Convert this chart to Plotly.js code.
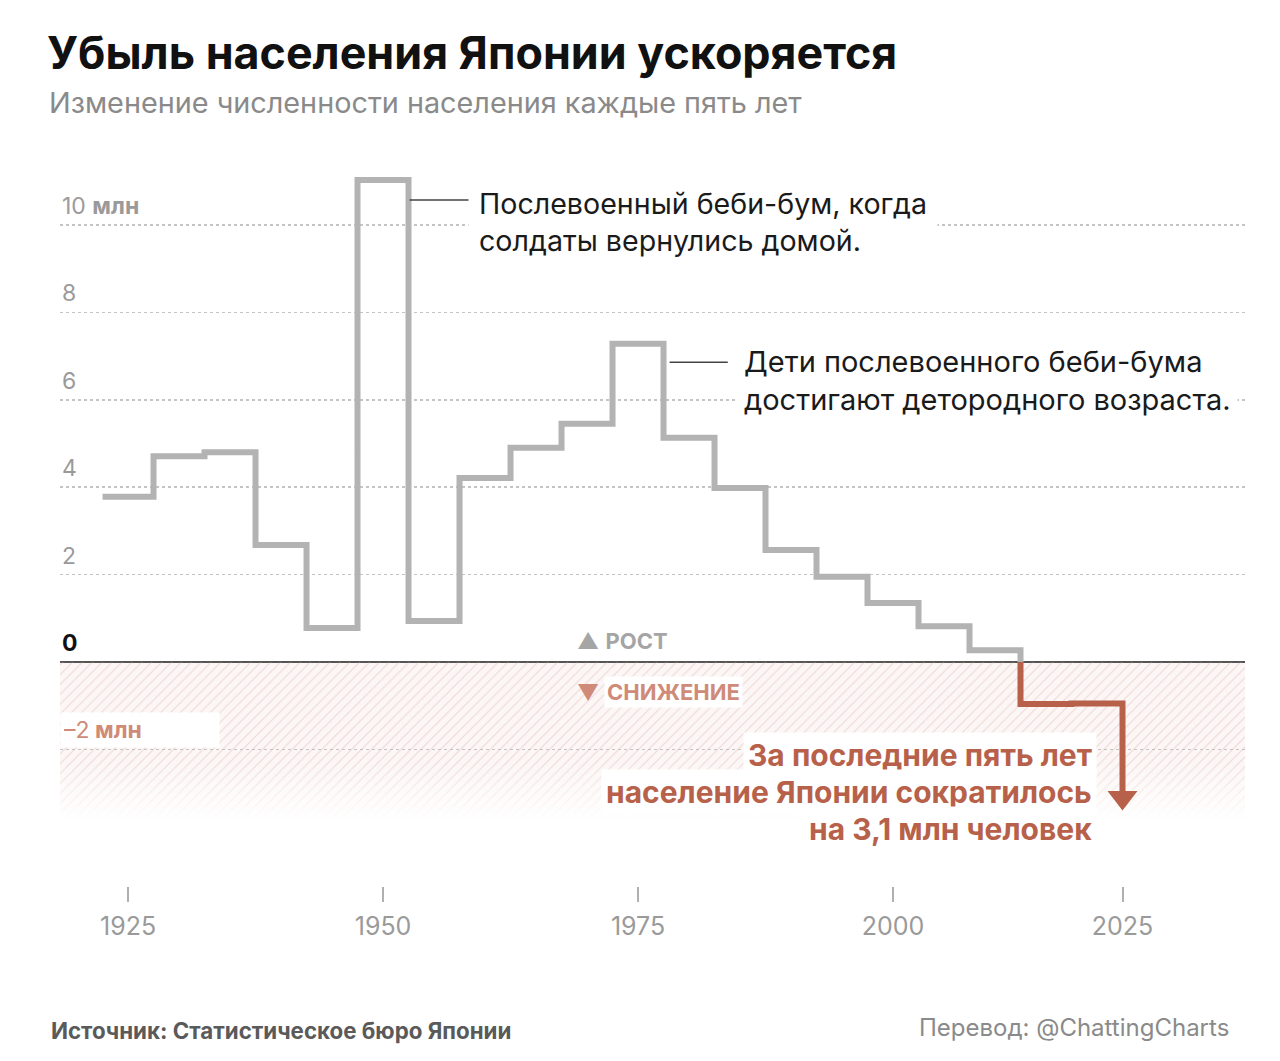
<!DOCTYPE html>
<html>
<head>
<meta charset="utf-8">
<script src="https://cdn.plot.ly/plotly-3.0.1.min.js"></script>
<style>
  html, body { margin: 0; padding: 0; background: #ffffff; }
  #chart { width: 1280px; height: 1061px; }
</style>
</head>
<body>
<div id="chart"></div>
<script>
// ---- data ----
const years = [1925, 1930, 1935, 1940, 1945, 1950, 1955, 1960, 1965, 1970,
               1975, 1980, 1985, 1990, 1995, 2000, 2005, 2010, 2015, 2020];
const changes = [3.78, 4.71, 4.80, 2.68, 0.78, 11.03, 0.94, 4.21, 4.90, 5.45,
                 7.28, 5.13, 3.98, 2.56, 1.95, 1.35, 0.82, 0.27, -0.96, -0.95];
const latestChange = -3.1;          // last five years
const xTickVals = [1925, 1950, 1975, 2000, 2022.5];
const xTickText = ['1925', '1950', '1975', '2000', '2025'];
const yTickVals = [10, 8, 6, 4, 2, 0, -2];
const yTickText = ['10 <b>млн</b>', '8', '6', '4', '2', '<b>0</b>', '–2<b> млн</b>'];
const gridVals = [-2, 2, 4, 6, 8, 10];

// ---- styles ----
const FONT = 'Inter, "Noto Sans", sans-serif';
const GRAY_LINE = '#b3b3b3';
const RED = '#b8614a';
const RED_LIGHT = '#cf8b78';
const HALF = 2.5;
const xRange = [1918.33, 2034.51];
const yRange = [-5.126, 11.716];
const hatchBottom = -3.6;

// ---- step coordinates ----
const gx = [], gy = [], rx = [], ry = [];
let i = 0;
for (; i < changes.length && changes[i] >= 0; i++) {
  gx.push(years[i] - HALF, years[i] + HALF);
  gy.push(changes[i], changes[i]);
}
const crossX = years[i - 1] + HALF;
gx.push(crossX); gy.push(0);
rx.push(crossX); ry.push(0);
for (; i < changes.length; i++) {
  rx.push(years[i] - HALF, years[i] + HALF);
  ry.push(changes[i], changes[i]);
}
const lastEdge = years[years.length - 1] + HALF;
rx.push(lastEdge); ry.push(latestChange);

const traces = [
  { // hatched decline zone
    x: [xRange[0], xRange[1], xRange[1], xRange[0], xRange[0]],
    y: [0, 0, hatchBottom, hatchBottom, 0],
    mode: 'lines', line: {width: 0}, fill: 'toself',
    fillcolor: 'rgba(0,0,0,0)',
    fillpattern: {shape: '/', fgcolor: 'rgba(214,170,160,0.4)', bgcolor: 'rgba(0,0,0,0)', size: 7, solidity: 0.16},
    hoverinfo: 'skip', showlegend: false
  },
  { // fade at the bottom of the zone
    x: [xRange[0], xRange[1], xRange[1], xRange[0], xRange[0]],
    y: [-2.3, -2.3, hatchBottom - 0.05, hatchBottom - 0.05, -2.3],
    mode: 'lines', line: {width: 0}, fill: 'toself',
    fillgradient: {type: 'vertical', colorscale: [[0, 'rgba(255,255,255,1)'], [1, 'rgba(255,255,255,0)']]},
    hoverinfo: 'skip', showlegend: false
  },
  {
    x: gx, y: gy, mode: 'lines',
    line: {color: GRAY_LINE, width: 6, shape: 'linear'},
    hoverinfo: 'skip', showlegend: false
  },
  {
    x: rx, y: ry, mode: 'lines',
    line: {color: RED, width: 6, shape: 'linear'},
    hoverinfo: 'skip', showlegend: false
  },
  {
    x: [lastEdge], y: [latestChange], mode: 'markers',
    marker: {symbol: 'triangle-down', size: 26, color: RED, line: {width: 0}},
    hoverinfo: 'skip', showlegend: false
  }
];

// ---- annotations ----
const ann = [];
yTickVals.forEach((v, k) => {
  const a = {
    xref: 'paper', yref: 'y', x: 0, y: v, xanchor: 'left', yanchor: 'bottom',
    yshift: 3, text: yTickText[k], showarrow: false,
    font: {family: FONT, size: 23, color: '#9a9a9a'}
  };
  if (v === 0) { a.font = {family: FONT, size: 23, color: '#111'}; }
  if (v === -2) {
    a.font = {family: FONT, size: 23, color: RED_LIGHT};
    a.bgcolor = '#ffffff'; a.width = 152; a.align = 'left'; a.borderpad = 3; a.yshift = 1;
  }
  ann.push(a);
});

// title, subtitle, footer
ann.push({xref: 'paper', yref: 'paper', x: -0.0127, y: 1.1318, xanchor: 'left', yanchor: 'middle',
  text: '<b>Убыль населения Японии ускоряется</b>', showarrow: false,
  font: {family: FONT, size: 44.8, color: '#111'}});
ann.push({xref: 'paper', yref: 'paper', x: -0.011, y: 1.0639, xanchor: 'left', yanchor: 'middle',
  text: 'Изменение численности населения каждые пять лет', showarrow: false,
  font: {family: FONT, size: 28.8, color: '#8a8a8a'}});
ann.push({xref: 'paper', yref: 'paper', x: -0.0093, y: -0.1957, xanchor: 'left', yanchor: 'middle',
  text: '<b>Источник: Статистическое бюро Японии</b>', showarrow: false,
  font: {family: FONT, size: 22.3, color: '#5a5a5a'}});
ann.push({xref: 'paper', yref: 'paper', x: 0.988, y: -0.1916, xanchor: 'right', yanchor: 'middle',
  text: 'Перевод: @ChattingCharts', showarrow: false,
  font: {family: FONT, size: 24, color: '#8a8a8a'}});

// callouts
ann.push({xref: 'x', yref: 'y', x: 1958.3, y: 10.07, xanchor: 'left', yanchor: 'middle',
  text: 'Послевоенный беби-бум, когда<br>солдаты вернулись домой.', align: 'left',
  showarrow: false, bgcolor: '#ffffff', borderpad: 10,
  font: {family: FONT, size: 28.6, color: '#1a1a1a'}});
ann.push({xref: 'x', yref: 'y', x: 1984.7, y: 6.45, xanchor: 'left', yanchor: 'middle',
  text: 'Дети послевоенного беби-бума<br>достигают детородного возраста.', align: 'left',
  showarrow: false, bgcolor: '#ffffff', borderpad: 6,
  font: {family: FONT, size: 29, color: '#1a1a1a'}});

// growth / decline labels
ann.push({xref: 'x', yref: 'y', x: 1968.8, y: 0.48, xanchor: 'left', yanchor: 'middle',
  text: '▲ <b>РОСТ</b>', showarrow: false,
  font: {family: FONT, size: 22, color: '#a5a5a5'}});
ann.push({xref: 'x', yref: 'y', x: 1968.8, y: -0.69, xanchor: 'left', yanchor: 'middle',
  text: '▼', showarrow: false,
  font: {family: FONT, size: 22, color: RED_LIGHT}});
ann.push({xref: 'x', yref: 'y', x: 1971.7, y: -0.69, xanchor: 'left', yanchor: 'middle',
  text: '<b>СНИЖЕНИЕ</b>', showarrow: false, bgcolor: '#ffffff', borderpad: 2,
  font: {family: FONT, size: 22, color: RED_LIGHT}});

// red note
const noteLines = ['За последние пять лет', 'население Японии сократилось', 'на 3,1 млн человек'];
const noteY = [-2.13, -2.97, -3.82];
noteLines.forEach((t, k) => {
  ann.push({xref: 'x', yref: 'y', x: 2020.0, y: noteY[k], xanchor: 'right', yanchor: 'middle',
    text: '<b>' + t + '</b>', showarrow: false, bgcolor: '#ffffff', borderpad: 4,
    font: {family: FONT, size: 30, color: RED}});
});

// ---- shapes ----
const shapes = [
  {type: 'rect', layer: 'below', xref: 'paper', yref: 'y', x0: 0, x1: 1, y0: 0, y1: hatchBottom,
   fillcolor: '#fcf7f6', line: {width: 0}},
  {type: 'line', layer: 'above', xref: 'x', yref: 'y', x0: 1952.6, x1: 1958.6, y0: 10.57, y1: 10.57,
   line: {color: '#444', width: 1.5}},
  {type: 'line', layer: 'above', xref: 'x', yref: 'y', x0: 1978.1, x1: 1983.8, y0: 6.86, y1: 6.86,
   line: {color: '#444', width: 1.5}}
];

const layout = {
  width: 1280, height: 1061,
  margin: {l: 60, r: 35, t: 150, b: 175},
  paper_bgcolor: '#ffffff', plot_bgcolor: 'rgba(0,0,0,0)',
  font: {family: FONT},
  showlegend: false,
  xaxis: {
    range: xRange, showgrid: false, zeroline: false, showline: false,
    tickvals: xTickVals, ticktext: xTickText,
    ticks: 'outside', ticklen: 15, tickwidth: 2, tickcolor: '#b0b0b0',
    ticklabelstandoff: 3,
    tickfont: {family: FONT, size: 25, color: '#9a9a9a'},
    fixedrange: true
  },
  yaxis: {
    range: yRange, tickvals: gridVals, showticklabels: false,
    showgrid: true, gridcolor: '#c4c4c4', griddash: 'dot', gridwidth: 1.5,
    zeroline: true, zerolinecolor: '#555555', zerolinewidth: 2,
    showline: false, ticks: '', fixedrange: true
  },
  annotations: ann,
  shapes: shapes
};

Plotly.newPlot('chart', traces, layout, {displayModeBar: false, staticPlot: true});
</script>
</body>
</html>
